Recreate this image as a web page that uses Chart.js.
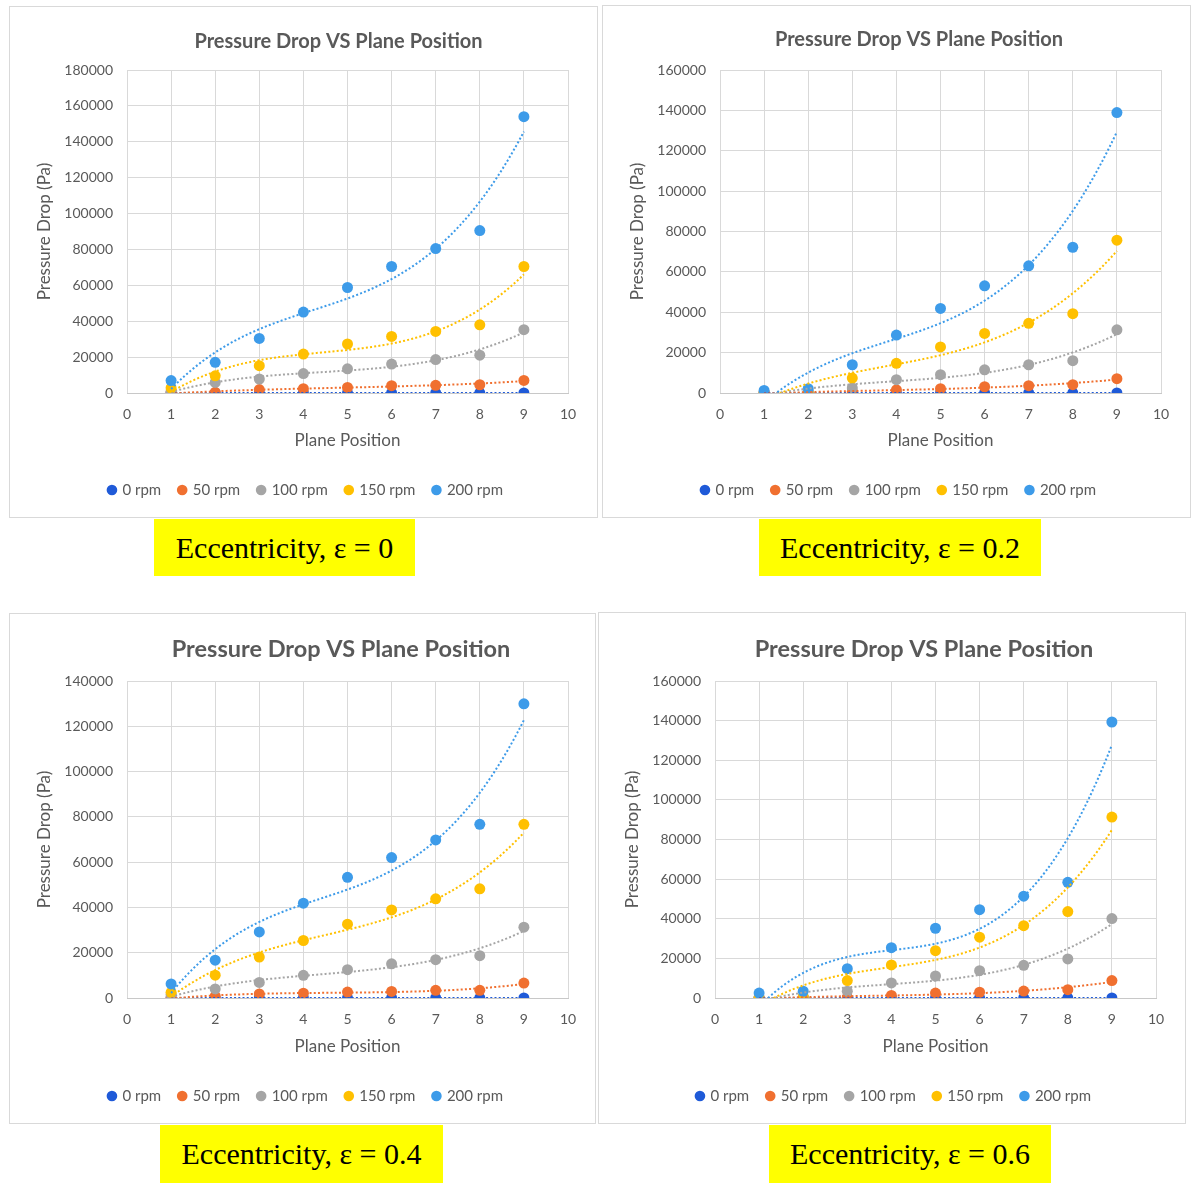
<!DOCTYPE html>
<html>
<head>
<meta charset="utf-8">
<title>Pressure Drop VS Plane Position</title>
<script src="https://cdn.jsdelivr.net/npm/chart.js@4.4.1/dist/chart.umd.min.js"></script>
<style>
  html, body { margin: 0; padding: 0; background: #ffffff; }
  body { position: relative; width: 1198px; height: 1184px; overflow: hidden; }
  .panel { position: absolute; box-sizing: border-box; border: 1px solid #d9d9d9; background: #ffffff; }
  .panel canvas { position: absolute; left: 0; top: 0; }
  .tag {
    position: absolute; background: #ffff00; color: #000000;
    font-family: 'Liberation Serif', 'Times New Roman', serif; font-size: 30px;
    display: flex; align-items: center; justify-content: center; white-space: nowrap;
  }
</style>
</head>
<body>
<script>
// Plane positions along the annulus (x values)
const planePositions = [1, 2, 3, 4, 5, 6, 7, 8, 9];
const speedLabels = ['0 rpm', '50 rpm', '100 rpm', '150 rpm', '200 rpm'];
const eccentricityLabels = ['Eccentricity, ε = 0', 'Eccentricity, ε = 0.2', 'Eccentricity, ε = 0.4', 'Eccentricity, ε = 0.6'];
const yAxisMax = [180000, 160000, 140000, 160000];
const yAxisStep = 20000;

// Pressure drop (Pa), eccentricity 0
const ecc0_rpm0   = [0, 0, 0, 0, 0, 0, 0, 0, 0];
const ecc0_rpm50  = [0, 400, 1900, 2400, 3100, 4100, 4300, 4600, 7000];
const ecc0_rpm100 = [1000, 5900, 7800, 10800, 13500, 16100, 18600, 21100, 35300];
const ecc0_rpm150 = [2800, 9600, 15200, 21700, 27300, 31500, 34300, 38000, 70500];
const ecc0_rpm200 = [6900, 17100, 30400, 45100, 58800, 70500, 80500, 90500, 154000];

// Pressure drop (Pa), eccentricity 0.2
const ecc02_rpm0   = [0, 0, 0, 0, 0, 0, 0, 0, 0];
const ecc02_rpm50  = [0, 0, 800, 1600, 2100, 3100, 3600, 4100, 7100];
const ecc02_rpm100 = [0, 800, 2500, 6600, 9100, 11500, 14000, 16000, 31300];
const ecc02_rpm150 = [0, 0, 7400, 14700, 22800, 29500, 34500, 39300, 75700];
const ecc02_rpm200 = [1300, 2100, 14000, 28700, 41900, 53100, 63000, 72200, 138900];

// Pressure drop (Pa), eccentricity 0.4
const ecc04_rpm0   = [0, 0, 0, 0, 0, 0, 0, 0, 0];
const ecc04_rpm50  = [0, 800, 1800, 2100, 2600, 2900, 3400, 3400, 6600];
const ecc04_rpm100 = [1500, 4000, 6900, 10000, 12500, 15100, 16900, 18700, 31300];
const ecc04_rpm150 = [2500, 10100, 18100, 25400, 32600, 38900, 43800, 48200, 76700];
const ecc04_rpm200 = [6200, 16700, 29200, 41900, 53300, 62000, 69800, 76700, 129900];

// Pressure drop (Pa), eccentricity 0.6
const ecc06_rpm0   = [0, 0, 0, 0, 0, 0, 0, 0, 0];
const ecc06_rpm50  = [0, 0, 300, 1300, 2500, 2900, 3500, 4200, 8800];
const ecc06_rpm100 = [0, 500, 3400, 7600, 11100, 13800, 16500, 19700, 40100];
const ecc06_rpm150 = [0, 500, 8800, 16700, 23900, 30700, 36500, 43600, 91300];
const ecc06_rpm200 = [2500, 3400, 14800, 25400, 35200, 44600, 51400, 58400, 139300];

const panelSeries = [
  [ecc0_rpm0, ecc0_rpm50, ecc0_rpm100, ecc0_rpm150, ecc0_rpm200],
  [ecc02_rpm0, ecc02_rpm50, ecc02_rpm100, ecc02_rpm150, ecc02_rpm200],
  [ecc04_rpm0, ecc04_rpm50, ecc04_rpm100, ecc04_rpm150, ecc04_rpm200],
  [ecc06_rpm0, ecc06_rpm50, ecc06_rpm100, ecc06_rpm150, ecc06_rpm200]
];

const speedColors = ['#1f5ad8', '#f07030', '#a5a5a5', '#ffc000', '#3d9be9'];
// Polynomial trendline order
const TREND_ORDER = 3;

// Page layout of each chart frame (page pixels)
const frames = [
  { box: [9, 6, 589, 512],   plot: [127, 568, 70, 393],   titleCx: 338.5, titleCy: 42,  titleSize: 20, legendCx: 306, legendCy: 490,  xTitleCy: 441,  yTitleCx: 45,  tag: [154, 519, 261, 57] },
  { box: [602, 5, 589, 513], plot: [720, 1161, 70, 393],  titleCx: 919,   titleCy: 40,  titleSize: 20, legendCx: 899, legendCy: 490,  xTitleCy: 441,  yTitleCx: 638, tag: [759, 519, 282, 57] },
  { box: [9, 613, 587, 511], plot: [127, 568, 681, 998],  titleCx: 341,   titleCy: 649, titleSize: 23.5, legendCx: 306, legendCy: 1096, xTitleCy: 1047, yTitleCx: 45,  tag: [160, 1125, 283, 58] },
  { box: [598, 612, 588, 512], plot: [715, 1156, 681, 998], titleCx: 924, titleCy: 649, titleSize: 23.5, legendCx: 894, legendCy: 1096, xTitleCy: 1047, yTitleCx: 633, tag: [769, 1125, 282, 58] }
];

const TEXT = '#595959';
const GRID = '#d9d9d9';
const FONT = "'Lato', 'Open Sans', sans-serif";

// Least-squares polynomial fit (centred x for conditioning), returns an evaluator
function polyFit(xs, ys, order) {
  const n = order + 1;
  const xm = xs.reduce((a, b) => a + b, 0) / xs.length;
  const A = Array.from({ length: n }, () => new Array(n + 1).fill(0));
  xs.forEach((x, i) => {
    const u = x - xm;
    const pw = [];
    for (let k = 0; k < n; k++) pw.push(Math.pow(u, k));
    for (let r = 0; r < n; r++) {
      for (let c = 0; c < n; c++) A[r][c] += pw[r] * pw[c];
      A[r][n] += pw[r] * ys[i];
    }
  });
  for (let col = 0; col < n; col++) {
    let piv = col;
    for (let r = col + 1; r < n; r++) if (Math.abs(A[r][col]) > Math.abs(A[piv][col])) piv = r;
    [A[col], A[piv]] = [A[piv], A[col]];
    if (Math.abs(A[col][col]) < 1e-12) continue;
    for (let r = 0; r < n; r++) {
      if (r === col) continue;
      const f = A[r][col] / A[col][col];
      for (let c = col; c <= n; c++) A[r][c] -= f * A[col][c];
    }
  }
  const coef = A.map((row, i) => (Math.abs(row[i]) < 1e-12 ? 0 : row[n] / row[i]));
  return x => {
    const u = x - xm;
    let s = 0;
    for (let k = n - 1; k >= 0; k--) s = s * u + coef[k];
    return s;
  };
}

// Shift the title block and legend so they sit at their own centres
const blockCentres = {
  id: 'blockCentres',
  afterLayout(chart, args, opts) {
    const t = chart.titleBlock;
    if (t) { const dx = opts.titleCx - (t.left + t.right) / 2; t.left += dx; t.right += dx; }
    const l = chart.legend;
    if (l) { const dx = opts.legendCx - (l.left + l.right) / 2; l.left += dx; l.right += dx; }
  }
};

frames.forEach((f, pi) => {
  const panel = document.createElement('div');
  panel.className = 'panel';
  Object.assign(panel.style, { left: f.box[0] + 'px', top: f.box[1] + 'px', width: f.box[2] + 'px', height: f.box[3] + 'px' });
  document.body.appendChild(panel);

  const cl = f.box[0] + 1, ct = f.box[1] + 1, W = f.box[2] - 2, H = f.box[3] - 2;
  const canvas = document.createElement('canvas');
  canvas.style.width = W + 'px';
  canvas.style.height = H + 'px';
  panel.appendChild(canvas);

  const L = f.plot[0] - cl, R = f.plot[1] - cl, T = f.plot[2] - ct, B = f.plot[3] - ct;
  const padL = 0, padR = W - R;
  const tLh = f.titleSize * 1.2;
  const tTop = (f.titleCy - ct) - tLh / 2;
  const tBot = T - tTop - tLh;
  const legFs = 15, legPad = 18;
  const legCy = f.legendCy - ct;
  const padB = H - legCy - legFs / 2 - 10;
  const legTop = legCy - legPad - legFs / 2;
  const tickFs = 14;
  const axFs = 17, axLh = axFs * 1.2;
  const xScaleH = legTop - B;
  const xTitlePadB = legTop - (f.xTitleCy - ct) - axLh / 2;
  const yScaleW = L - padL;
  const yTitlePadT = (f.yTitleCx - cl) - padL - axLh / 2;

  const series = panelSeries[pi];
  const trendSets = series.map((ys, si) => {
    const fit = polyFit(planePositions, ys, TREND_ORDER);
    const pts = [];
    for (let x = planePositions[0]; x <= planePositions[planePositions.length - 1] + 1e-9; x += 0.05) {
      pts.push({ x: x, y: fit(x) });
    }
    return {
      label: 'trend ' + speedLabels[si], data: pts, showLine: true, pointRadius: 0, pointHoverRadius: 0,
      borderColor: speedColors[si], borderWidth: 2, borderDash: [2, 2.2], fill: false, tension: 0
    };
  });
  // later speeds drawn above earlier ones: list them in reverse
  const pointSets = series.map((ys, si) => ({
    label: speedLabels[si],
    data: planePositions.map((x, i) => ({ x: x, y: ys[i] })),
    showLine: false, pointRadius: 5.5, pointHoverRadius: 5.5, pointBorderWidth: 0,
    backgroundColor: speedColors[si], borderColor: speedColors[si], pointStyle: 'circle'
  })).reverse();

  new Chart(canvas, {
    type: 'scatter',
    data: { datasets: [...trendSets.slice().reverse(), ...pointSets] },
    plugins: [blockCentres],
    options: {
      responsive: false, animation: false, devicePixelRatio: 1,
      layout: { padding: { left: padL, right: padR, top: 0, bottom: padB } },
      scales: {
        x: {
          type: 'linear', min: 0, max: 10,
          ticks: { stepSize: 1, color: TEXT, font: { family: FONT, size: tickFs }, padding: 21 - tickFs * 0.6 },
          grid: { color: GRID, lineWidth: 1, drawTicks: false },
          border: { display: true, color: '#c8c8c8' },
          title: { display: true, text: 'Plane Position', color: TEXT, font: { family: FONT, size: axFs }, padding: { top: 0, bottom: xTitlePadB } },
          afterFit: s => { s.height = xScaleH; }
        },
        y: {
          type: 'linear', min: 0, max: yAxisMax[pi],
          ticks: { stepSize: yAxisStep, color: TEXT, font: { family: FONT, size: tickFs }, padding: 14, callback: v => String(v) },
          grid: { color: GRID, lineWidth: 1, drawTicks: false },
          border: { display: false },
          title: { display: true, text: 'Pressure Drop (Pa)', color: TEXT, font: { family: FONT, size: axFs }, padding: { top: yTitlePadT, bottom: 0 } },
          afterFit: s => { s.width = yScaleW; }
        }
      },
      plugins: {
        blockCentres: { titleCx: f.titleCx - cl, legendCx: f.legendCx - cl },
        title: {
          display: true, text: 'Pressure Drop VS Plane Position', color: TEXT,
          font: { family: FONT, size: f.titleSize, weight: 'bold', lineHeight: 1.2 },
          padding: { top: tTop, bottom: tBot }
        },
        legend: {
          display: true, position: 'bottom',
          labels: {
            color: TEXT, font: { family: FONT, size: legFs }, padding: legPad,
            usePointStyle: true, boxWidth: 6, boxHeight: 7.5,
            filter: item => !item.text.startsWith('trend'),
            sort: (a, b) => b.datasetIndex - a.datasetIndex
          }
        },
        tooltip: { enabled: false }
      }
    }
  });

  const tag = document.createElement('div');
  tag.className = 'tag';
  tag.textContent = eccentricityLabels[pi];
  Object.assign(tag.style, { left: f.tag[0] + 'px', top: f.tag[1] + 'px', width: f.tag[2] + 'px', height: f.tag[3] + 'px' });
  document.body.appendChild(tag);
});
</script>
</body>
</html>
